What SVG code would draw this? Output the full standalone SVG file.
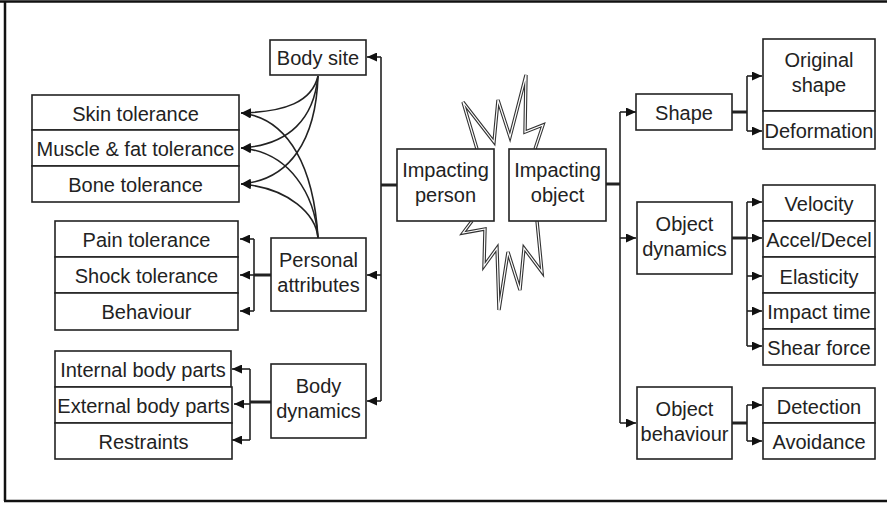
<svg xmlns="http://www.w3.org/2000/svg" width="887" height="505" viewBox="0 0 887 505">
  <defs>
    <marker id="arrow" markerUnits="userSpaceOnUse" markerWidth="11" markerHeight="9" refX="10" refY="4.5" orient="auto">
      <path d="M0,0 L10,4.5 L0,9 z" fill="#111"/>
    </marker>
    <style>
      .box { fill: #fff; stroke: #222; stroke-width: 1.6; }
      .lbl { font-family: "Liberation Sans", Arial, sans-serif; font-size: 20px; fill: #222; text-anchor: middle; }
      .ln { fill: none; stroke: #222; stroke-width: 1.6; }
      .stub { fill: none; stroke: #222; stroke-width: 3; }
      .arr { fill: none; stroke: #222; stroke-width: 1.6; marker-end: url(#arrow); }
      .burst { fill: none; stroke-linejoin: miter; }
    </style>
  </defs>

  <rect width="887" height="505" fill="#fff"/>

  <!-- outer frame: top, left and bottom edges -->
  <path d="M0,1.5 H887 M5,1 V501 M4,501 H887" fill="none" stroke="#111" stroke-width="2.5"/>

  <!-- impact burst behind the two central boxes -->
  <g id="burst">
    <path class="burst" stroke="#333" stroke-width="3.4" d="M477,149 L463,102 L494,142 L498,100 L510,137 L526,75 L525,132 L543,125 L535,149 M472,221 L463,233 L485,229 L484,266 L497,248 L499,310 L508,252 L520,290 L524,248 L542,272 L537,221"/>
    <path class="burst" stroke="#fff" stroke-width="1.2" d="M477,149 L463,102 L494,142 L498,100 L510,137 L526,75 L525,132 L543,125 L535,149 M472,221 L463,233 L485,229 L484,266 L497,248 L499,310 L508,252 L520,290 L524,248 L542,272 L537,221"/>
  </g>

  <g id="connectors">
    <!-- impacting person to its three branches -->
    <path class="stub" d="M381,185 H397"/>
    <path class="ln" d="M381,57 V401"/>
    <path class="arr" d="M381,57 H367"/>
    <path class="arr" d="M381,275 H367"/>
    <path class="arr" d="M381,401 H367"/>

    <!-- body site and personal attributes to tolerances -->
    <path class="arr" d="M318,76 C312,102 285,112 241,113"/>
    <path class="arr" d="M318,76 C314,118 290,145 241,148"/>
    <path class="arr" d="M318,76 C316,140 290,180 241,184"/>
    <path class="arr" d="M318,238 C314,170 290,118 241,113"/>
    <path class="arr" d="M318,238 C315,195 290,152 241,148"/>
    <path class="arr" d="M318,238 C316,215 290,188 241,184"/>

    <!-- personal attributes bracket -->
    <path class="stub" d="M271,275 H254"/>
    <path class="ln" d="M254,239 V311"/>
    <path class="arr" d="M254,239 H240"/>
    <path class="arr" d="M254,275 H240"/>
    <path class="arr" d="M254,311 H240"/>

    <!-- body dynamics bracket -->
    <path class="stub" d="M271,402 H250"/>
    <path class="ln" d="M250,369 V440"/>
    <path class="arr" d="M250,369 H232"/>
    <path class="arr" d="M250,404 H234"/>
    <path class="arr" d="M250,440 H232"/>

    <!-- impacting object to its three branches -->
    <path class="stub" d="M606,184 H620"/>
    <path class="ln" d="M620,112 V423"/>
    <path class="arr" d="M620,112 H636"/>
    <path class="arr" d="M620,238 H636"/>
    <path class="arr" d="M620,423 H636"/>

    <!-- shape bracket -->
    <path class="stub" d="M732,112 H747"/>
    <path class="ln" d="M747,76 V131"/>
    <path class="arr" d="M747,76 H762"/>
    <path class="arr" d="M747,131 H762"/>

    <!-- object dynamics bracket -->
    <path class="stub" d="M732,238 H747"/>
    <path class="ln" d="M747,202 V346"/>
    <path class="arr" d="M747,202 H762"/>
    <path class="arr" d="M747,238 H762"/>
    <path class="arr" d="M747,276 H762"/>
    <path class="arr" d="M747,311 H762"/>
    <path class="arr" d="M747,346 H762"/>

    <!-- object behaviour bracket -->
    <path class="stub" d="M732,423 H747"/>
    <path class="ln" d="M747,405 V441"/>
    <path class="arr" d="M747,405 H762"/>
    <path class="arr" d="M747,441 H762"/>
  </g>

  <!-- centre -->
  <g id="impacting-person">
    <rect class="box" x="397" y="149" width="97" height="72"/>
    <text class="lbl" x="445.5" y="177">Impacting</text>
    <text class="lbl" x="445.5" y="202">person</text>
  </g>
  <g id="impacting-object">
    <rect class="box" x="509" y="149" width="97" height="72"/>
    <text class="lbl" x="557.5" y="177">Impacting</text>
    <text class="lbl" x="557.5" y="202">object</text>
  </g>

  <!-- person side -->
  <g id="body-site">
    <rect class="box" x="270" y="40" width="96" height="35"/>
    <text class="lbl" x="318" y="65">Body site</text>
  </g>
  <g id="personal-attributes">
    <rect class="box" x="271" y="238" width="95" height="73"/>
    <text class="lbl" x="318.5" y="267">Personal</text>
    <text class="lbl" x="318.5" y="292">attributes</text>
  </g>
  <g id="body-dynamics">
    <rect class="box" x="271" y="364" width="95" height="74"/>
    <text class="lbl" x="318.5" y="393">Body</text>
    <text class="lbl" x="318.5" y="418">dynamics</text>
  </g>

  <g id="skin-tolerance">
    <rect class="box" x="32" y="95" width="207" height="35"/>
    <text class="lbl" x="135.5" y="121">Skin tolerance</text>
  </g>
  <g id="muscle-fat-tolerance">
    <rect class="box" x="32" y="130" width="207" height="36"/>
    <text class="lbl" x="135.5" y="156">Muscle &amp; fat tolerance</text>
  </g>
  <g id="bone-tolerance">
    <rect class="box" x="32" y="166" width="207" height="36"/>
    <text class="lbl" x="135.5" y="192">Bone tolerance</text>
  </g>

  <g id="pain-tolerance">
    <rect class="box" x="55" y="221" width="183" height="36"/>
    <text class="lbl" x="146.5" y="247">Pain tolerance</text>
  </g>
  <g id="shock-tolerance">
    <rect class="box" x="55" y="257" width="183" height="36"/>
    <text class="lbl" x="146.5" y="283">Shock tolerance</text>
  </g>
  <g id="behaviour">
    <rect class="box" x="55" y="293" width="183" height="37"/>
    <text class="lbl" x="146.5" y="319">Behaviour</text>
  </g>

  <g id="internal-body-parts">
    <rect class="box" x="55" y="351" width="176" height="36"/>
    <text class="lbl" x="143" y="377">Internal body parts</text>
  </g>
  <g id="external-body-parts">
    <rect class="box" x="55" y="387" width="177" height="36"/>
    <text class="lbl" x="143.5" y="413">External body parts</text>
  </g>
  <g id="restraints">
    <rect class="box" x="55" y="423" width="177" height="36"/>
    <text class="lbl" x="143.5" y="449">Restraints</text>
  </g>

  <!-- object side -->
  <g id="shape">
    <rect class="box" x="636" y="94" width="96" height="36"/>
    <text class="lbl" x="684" y="120">Shape</text>
  </g>
  <g id="object-dynamics">
    <rect class="box" x="637" y="202" width="95" height="72"/>
    <text class="lbl" x="684.5" y="231">Object</text>
    <text class="lbl" x="684.5" y="256">dynamics</text>
  </g>
  <g id="object-behaviour">
    <rect class="box" x="637" y="387" width="95" height="72"/>
    <text class="lbl" x="684.5" y="416">Object</text>
    <text class="lbl" x="684.5" y="441">behaviour</text>
  </g>

  <g id="original-shape">
    <rect class="box" x="763" y="39" width="112" height="72"/>
    <text class="lbl" x="819" y="67">Original</text>
    <text class="lbl" x="819" y="92">shape</text>
  </g>
  <g id="deformation">
    <rect class="box" x="763" y="111" width="112" height="38"/>
    <text class="lbl" x="819" y="138">Deformation</text>
  </g>

  <g id="velocity">
    <rect class="box" x="763" y="185" width="112" height="36"/>
    <text class="lbl" x="819" y="211">Velocity</text>
  </g>
  <g id="accel-decel">
    <rect class="box" x="763" y="221" width="112" height="36"/>
    <text class="lbl" x="819" y="247">Accel/Decel</text>
  </g>
  <g id="elasticity">
    <rect class="box" x="763" y="257" width="112" height="36"/>
    <text class="lbl" x="819" y="284">Elasticity</text>
  </g>
  <g id="impact-time">
    <rect class="box" x="763" y="293" width="112" height="36"/>
    <text class="lbl" x="819" y="319">Impact time</text>
  </g>
  <g id="shear-force">
    <rect class="box" x="763" y="329" width="112" height="36"/>
    <text class="lbl" x="819" y="355">Shear force</text>
  </g>

  <g id="detection">
    <rect class="box" x="763" y="388" width="112" height="35"/>
    <text class="lbl" x="819" y="414">Detection</text>
  </g>
  <g id="avoidance">
    <rect class="box" x="763" y="423" width="112" height="36"/>
    <text class="lbl" x="819" y="449">Avoidance</text>
  </g>
</svg>
